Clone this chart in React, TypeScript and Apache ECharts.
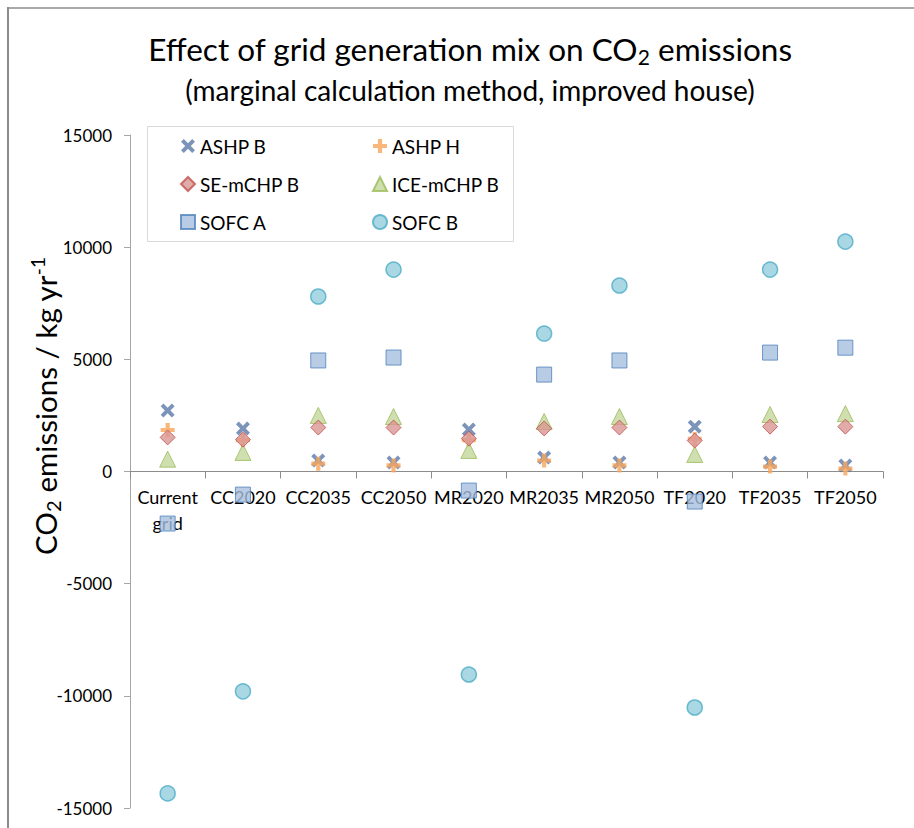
import React, { useEffect, useRef } from "react";
import * as echarts from "echarts";

const categories = ["Current grid", "CC2020", "CC2035", "CC2050", "MR2020", "MR2035", "MR2050", "TF2020", "TF2035", "TF2050"];
const yTicks = { min: -15000, max: 15000, interval: 5000 };

const ashpB = [2720, 1920, 490, 400, 1870, 620, 400, 2000, 400, 270];
const ashpH = [1850, 1400, 350, 270, 1400, 490, 270, 1450, 220, 130];
const seMchpB = [1520, 1420, 1960, 1960, 1470, 1920, 1960, 1380, 2000, 2000];
const iceMchpB = [550, 850, 2500, 2450, 940, 2230, 2450, 760, 2540, 2580];
const sofcA = [-2320, -1030, 4950, 5080, -850, 4320, 4950, -1340, 5300, 5520];
const sofcB = [-14350, -9800, 7800, 9000, -9050, 6150, 8290, -10520, 9000, 10250];

const FONT = "Lato";
const X_PATH = "path://M2,0 L5,3 L8,0 L10,2 L7,5 L10,8 L8,10 L5,7 L2,10 L0,8 L3,5 L0,2 Z";
const PLUS_PATH = "path://M3.5,0 H6.5 V3.5 H10 V6.5 H6.5 V10 H3.5 V6.5 H0 V3.5 H3.5 Z";

const GRID_TOP = 135;
const GRID_BOTTOM = 20;
const CHART_H = 828;

export default function App() {
  const ref = useRef<HTMLDivElement>(null);
  useEffect(() => {
    document.body.style.margin = "0";
    const chart = echarts.init(ref.current as HTMLDivElement, null, { renderer: "svg" });
    const plotH = CHART_H - GRID_TOP - GRID_BOTTOM;
    const zeroFromBottom = (plotH * (0 - yTicks.min)) / (yTicks.max - yTicks.min);
    const option: any = {
      animation: false,
      backgroundColor: "#ffffff",
      textStyle: { fontFamily: FONT },
      grid: { left: 130, right: 31, top: GRID_TOP, bottom: GRID_BOTTOM, containLabel: false, outerBoundsMode: "none" },
      legend: [
        {
          data: ["ASHP B", "SE-mCHP B", "SOFC A"],
          orient: "vertical",
          left: 180,
          top: 136,
          padding: 0,
          itemWidth: 14,
          itemHeight: 14,
          itemGap: 18,
          textStyle: { fontSize: 19, color: "#000", fontFamily: FONT, lineHeight: 20 },
        },
        {
          data: ["ASHP H", "ICE-mCHP B", "SOFC B"],
          orient: "vertical",
          left: 372,
          top: 136,
          padding: 0,
          itemWidth: 14,
          itemHeight: 14,
          itemGap: 18,
          textStyle: { fontSize: 19, color: "#000", fontFamily: FONT, lineHeight: 20 },
        },
      ],
      xAxis: {
        type: "category",
        data: categories,
        boundaryGap: true,
        offset: -zeroFromBottom,
        axisLine: { onZero: false, lineStyle: { color: "#8C8C8C", width: 1 } },
        axisTick: { show: true, length: 7, inside: false, lineStyle: { color: "#8C8C8C" } },
        axisLabel: {
          interval: 0,
          margin: 12,
          fontSize: 18,
          color: "#000",
          fontFamily: FONT,
          lineHeight: 26,
          formatter: (v: string) => v.replace(" ", "\n"),
        },
        splitLine: { show: false },
      },
      yAxis: {
        type: "value",
        min: yTicks.min,
        max: yTicks.max,
        interval: yTicks.interval,
        axisLine: { show: true, lineStyle: { color: "#A6A6A6" } },
        axisTick: { show: true, length: 6, lineStyle: { color: "#A6A6A6" } },
        axisLabel: { margin: 18, fontSize: 17, color: "#000", fontFamily: FONT, formatter: (v: number) => String(v) },
        splitLine: { show: false },
      },
      series: [
        {
          name: "ASHP B",
          type: "scatter",
          data: ashpB,
          symbol: X_PATH,
          symbolSize: 14,
          z: 2,
          itemStyle: { color: "#5B79A8" },
        },
        {
          name: "ASHP H",
          type: "scatter",
          data: ashpH,
          symbol: PLUS_PATH,
          symbolSize: 14,
          z: 3,
          itemStyle: { color: "#F9A55B" },
        },
        {
          name: "SE-mCHP B",
          type: "scatter",
          data: seMchpB,
          symbol: "diamond",
          symbolSize: 15,
          z: 5,
          itemStyle: { color: "#DA9694", borderColor: "#C0504D", borderWidth: 1 },
        },
        {
          name: "ICE-mCHP B",
          type: "scatter",
          data: iceMchpB,
          symbol: "triangle",
          symbolSize: [16, 16],
          z: 4,
          itemStyle: { color: "#C4D79B", borderColor: "#9BBB59", borderWidth: 1 },
        },
        {
          name: "SOFC A",
          type: "scatter",
          data: sofcA,
          symbol: "rect",
          symbolSize: 15,
          z: 6,
          itemStyle: { color: "#A7BFDE", borderColor: "#4F81BD", borderWidth: 1 },
        },
        {
          name: "SOFC B",
          type: "scatter",
          data: sofcB,
          symbol: "circle",
          symbolSize: 15,
          z: 7,
          itemStyle: { color: "#93CDDD", borderColor: "#4BACC6", borderWidth: 1.5 },
        },
      ],
      graphic: [
        { type: "line", shape: { x1: 7, y1: 8, x2: 914, y2: 8 }, style: { stroke: "#8C8C8C", lineWidth: 1.5 } },
        { type: "line", shape: { x1: 8, y1: 7, x2: 8, y2: 828 }, style: { stroke: "#8C8C8C", lineWidth: 2 } },
        {
          type: "rect",
          shape: { x: 147.5, y: 126.5, width: 366, height: 115 },
          style: { fill: "none", stroke: "#D9D9D9", lineWidth: 1 },
          z: 0,
        },
        {
          type: "text",
          x: 470,
          y: 49,
          style: {
            text: "Effect of grid generation mix on CO{sub|2} emissions",
            align: "center",
            verticalAlign: "middle",
            fontFamily: FONT,
            fontSize: 31.5,
            fill: "#000",
            rich: { sub: { fontSize: 21, fontFamily: FONT, verticalAlign: "top", padding: [15, 0, 0, 0], fill: "#000" } },
          },
        },
        {
          type: "text",
          x: 470,
          y: 90,
          style: {
            text: "(marginal calculation method, improved house)",
            align: "center",
            verticalAlign: "middle",
            fontFamily: FONT,
            fontSize: 28,
            fill: "#000",
          },
        },
        {
          type: "text",
          x: 45,
          y: 406,
          rotation: Math.PI / 2,
          style: {
            text: "CO{sub|2} emissions / kg yr{sup|-1}",
            align: "center",
            verticalAlign: "middle",
            fontFamily: FONT,
            fontSize: 29.5,
            fill: "#000",
            rich: {
              sub: { fontSize: 20, fontFamily: FONT, verticalAlign: "top", padding: [15, 0, 0, 0], fill: "#000" },
              sup: { fontSize: 19, fontFamily: FONT, verticalAlign: "top", fill: "#000" },
            },
          },
        },
      ],
    };
    chart.setOption(option);
    return () => chart.dispose();
  }, []);
  return <div ref={ref} style={{ width: 914, height: 828 }} />;
}
